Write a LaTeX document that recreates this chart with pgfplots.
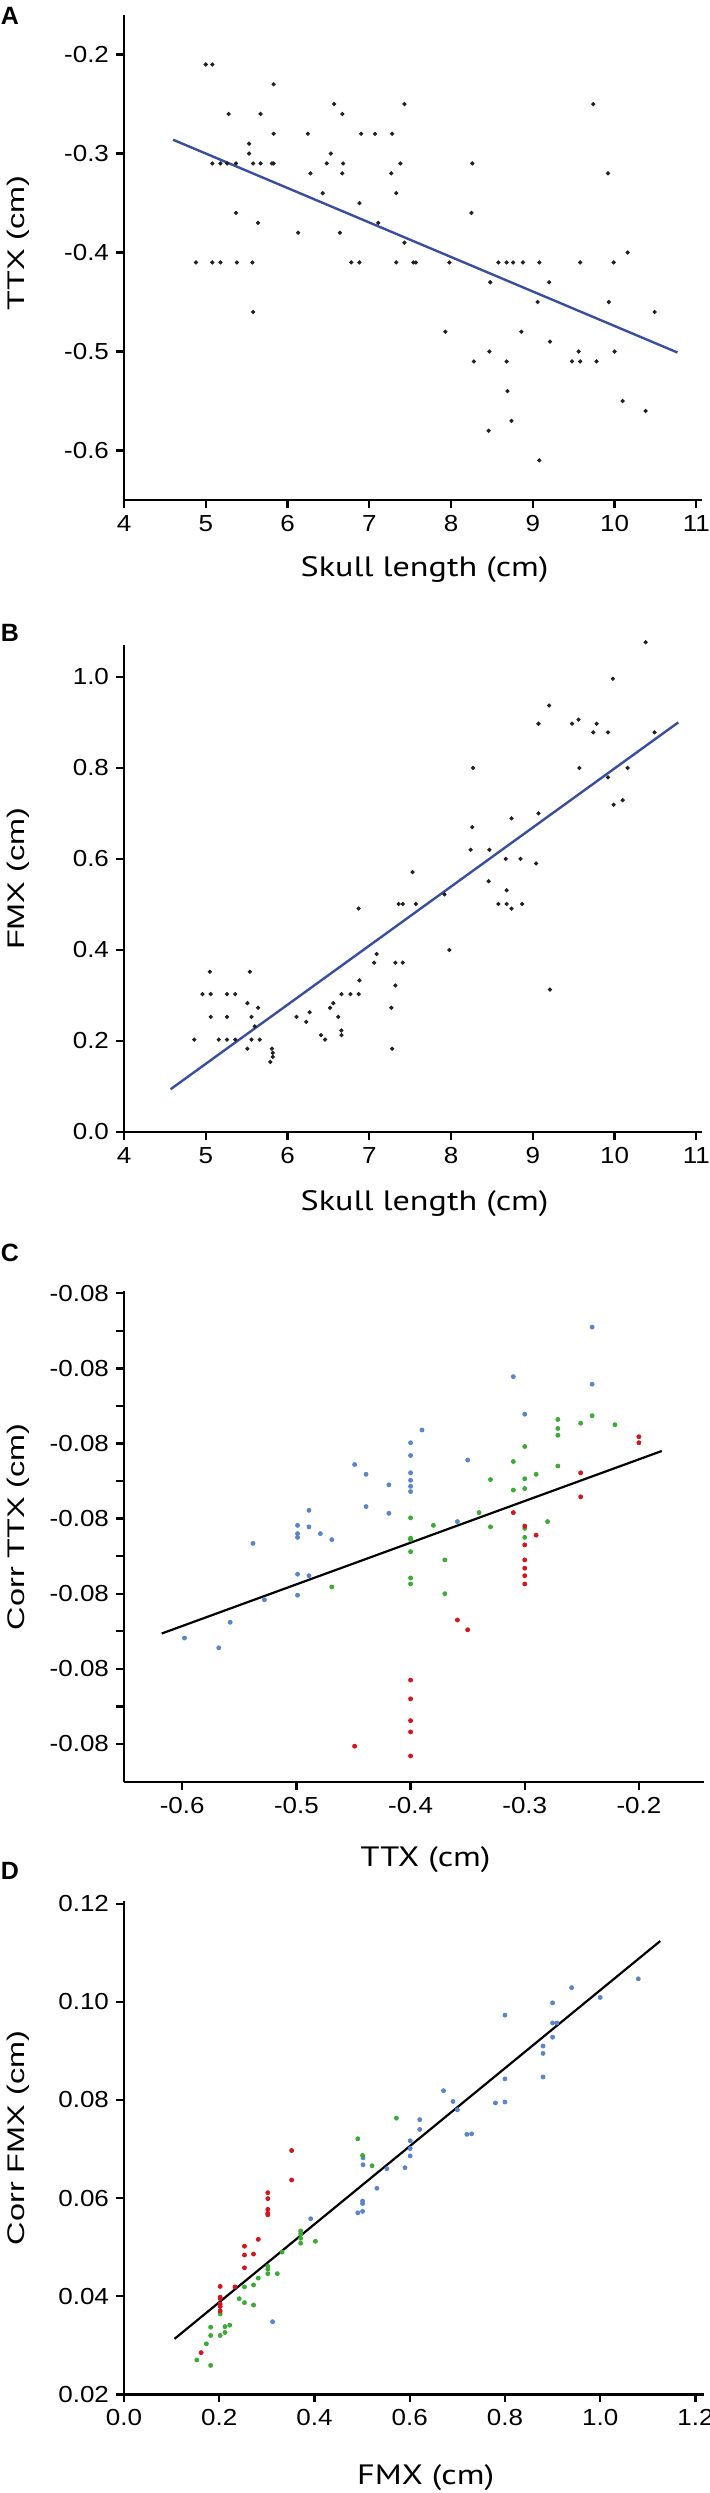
\documentclass[border=0pt]{standalone}
\usepackage{pgfplots}
\pgfplotsset{compat=1.18}
\usepackage{fontspec}
\setmainfont{Liberation Sans}
\newfontfamily\tickfont[FakeStretch=1.12]{Liberation Sans}
\newfontfamily\xlabfont[FakeStretch=1.22]{PT Sans}
\newfontfamily\ylabfont[FakeStretch=1.35]{Liberation Sans}
\definecolor{dotblack}{HTML}{231F20}
\definecolor{fitblue}{HTML}{3A4E9F}
\definecolor{ptblue}{HTML}{5B85C8}
\definecolor{ptgreen}{HTML}{3DAA35}
\definecolor{ptred}{HTML}{D2161E}
\pgfplotsset{
  panel/.style={
    scale only axis,
    axis x line*=bottom, axis y line*=left,
    axis line style={-, line width=1.2pt},
    tick align=outside,
    major tick length=4pt, minor tick length=4pt,
    every tick/.style={black, line width=1.2pt},
    tick label style={font=\tickfont\fontsize{11.6}{12}\selectfont},
    xlabel style={font=\xlabfont\fontsize{14}{15}\selectfont},
    ylabel style={font=\ylabfont\fontsize{12}{13}\selectfont},
    clip=false,
  },
  dots/.style={only marks, mark=*, mark size=0.85pt, mark options={draw=none}},
  cdots/.style={only marks, mark=*, mark size=1pt, mark options={draw=none}},
}
\begin{document}
\begin{tikzpicture}
\useasboundingbox (0,0) rectangle (354.5pt,-1246.5pt);
\node[font=\bfseries\fontsize{12.5}{13}\selectfont] at (5pt,-8pt) {A};
\node[font=\bfseries\fontsize{12.5}{13}\selectfont] at (5pt,-316.5pt) {B};
\node[font=\bfseries\fontsize{12.5}{13}\selectfont] at (5pt,-626.5pt) {C};
\node[font=\bfseries\fontsize{12.5}{13}\selectfont] at (5pt,-935.5pt) {D};

% A: TTX vs skull length
\begin{axis}[panel, at={(62pt,-250pt)}, anchor=south west,
  width=289pt, height=242.5pt,
  xmin=4, xmax=11.07, ymin=-0.65, ymax=-0.16,
  xtick={4,5,6,7,8,9,10,11}, xticklabels={4,5,6,7,8,9,10,11},
  ytick={-0.6,-0.5,-0.4,-0.3,-0.2}, yticklabels={-0.6,-0.5,-0.4,-0.3,-0.2},
  xlabel={Skull length (cm)}, ylabel={TTX (cm)},
  xlabel style={at={(axis description cs:0.52,0)}, anchor=center, yshift=-35pt},
  ylabel style={at={(axis description cs:-0.1834,0.53)}, anchor=center},
]
\addplot[dots, dotblack] coordinates {
(5.00,-0.21)(5.08,-0.21)(5.83,-0.23)(5.28,-0.26)(5.67,-0.26)(6.57,-0.25)(6.67,-0.26)(7.43,-0.25)(9.74,-0.25)
(5.83,-0.28)(6.25,-0.28)(6.90,-0.28)(7.07,-0.28)(7.28,-0.28)(5.53,-0.29)(5.53,-0.30)(6.53,-0.30)
(5.08,-0.31)(5.18,-0.31)(5.26,-0.31)(5.37,-0.31)(5.58,-0.31)(5.67,-0.31)(5.81,-0.31)(5.83,-0.31)(6.48,-0.31)(6.68,-0.31)(7.38,-0.31)(8.26,-0.31)
(6.28,-0.32)(6.67,-0.32)(7.27,-0.32)(9.92,-0.32)
(6.43,-0.34)(7.33,-0.34)(6.88,-0.35)(5.37,-0.36)(8.25,-0.36)(5.64,-0.37)(7.11,-0.37)(6.13,-0.38)(6.64,-0.38)(7.43,-0.39)(10.16,-0.40)
(4.88,-0.41)(5.08,-0.41)(5.18,-0.41)(5.38,-0.41)(5.57,-0.41)(6.78,-0.41)(6.88,-0.41)(7.33,-0.41)(7.54,-0.41)(7.57,-0.41)(7.98,-0.41)(8.58,-0.41)(8.68,-0.41)(8.76,-0.41)(8.88,-0.41)(9.08,-0.41)(9.58,-0.41)(9.99,-0.41)
(8.48,-0.43)(9.20,-0.43)(9.06,-0.45)(9.93,-0.45)(5.58,-0.46)(10.49,-0.46)
(7.93,-0.48)(8.86,-0.48)(9.21,-0.49)(8.47,-0.50)(9.56,-0.50)(10.00,-0.50)
(8.28,-0.51)(8.68,-0.51)(9.48,-0.51)(9.58,-0.51)(9.78,-0.51)(8.69,-0.54)(10.10,-0.55)(10.38,-0.56)(8.74,-0.57)(8.46,-0.58)(9.08,-0.61)
};
\addplot[fitblue, line width=1.2pt] coordinates {(4.6,-0.286)(10.77,-0.501)};
\end{axis}

% B: FMX vs skull length
\begin{axis}[panel, at={(62pt,-566pt)}, anchor=south west,
  width=289pt, height=243.5pt,
  xmin=4, xmax=11.07, ymin=0, ymax=1.07,
  xtick={4,5,6,7,8,9,10,11}, xticklabels={4,5,6,7,8,9,10,11},
  ytick={0,0.2,0.4,0.6,0.8,1.0}, yticklabels={0.0,0.2,0.4,0.6,0.8,1.0},
  xlabel={Skull length (cm)}, ylabel={FMX (cm)},
  xlabel style={at={(axis description cs:0.52,0)}, anchor=center, yshift=-36pt},
  ylabel style={at={(axis description cs:-0.1834,0.52)}, anchor=center},
]
\addplot[dots, dotblack] coordinates {
(10.38,1.076)(9.98,0.996)(9.20,0.937)(9.07,0.897)(9.48,0.897)(9.56,0.906)(9.78,0.897)(9.74,0.878)(9.92,0.878)(10.49,0.878)
(8.27,0.80)(9.57,0.80)(10.16,0.80)(9.92,0.779)(9.99,0.719)(10.10,0.729)(8.74,0.689)(9.07,0.70)(8.26,0.67)
(8.24,0.62)(8.47,0.62)(8.67,0.60)(8.85,0.60)(9.04,0.59)(7.53,0.571)(8.46,0.551)(8.68,0.531)(7.92,0.522)
(6.87,0.491)(7.36,0.501)(7.41,0.501)(7.57,0.501)(8.58,0.501)(8.68,0.501)(8.87,0.501)(8.74,0.491)
(7.98,0.40)(7.09,0.391)(7.06,0.372)(7.32,0.372)(7.41,0.372)(5.05,0.352)(5.54,0.352)(6.88,0.333)(7.32,0.322)(9.21,0.313)
(4.96,0.303)(5.06,0.303)(5.26,0.303)(5.36,0.303)(6.66,0.303)(6.77,0.303)(6.87,0.303)
(5.51,0.283)(6.56,0.283)(5.64,0.273)(6.52,0.273)(7.27,0.273)(6.27,0.263)
(5.06,0.253)(5.26,0.253)(5.56,0.253)(6.11,0.253)(6.62,0.253)(6.23,0.242)(5.60,0.232)(6.66,0.223)(6.66,0.213)(6.41,0.213)
(4.86,0.203)(5.16,0.203)(5.26,0.203)(5.36,0.203)(5.56,0.203)(5.66,0.203)(6.46,0.203)
(5.51,0.183)(5.81,0.183)(7.28,0.183)(5.82,0.174)(5.82,0.165)(5.79,0.154)
};
\addplot[fitblue, line width=1.2pt] coordinates {(4.57,0.094)(10.78,0.90)};
\end{axis}

% C: corrected TTX vs TTX
\begin{axis}[panel, at={(62pt,-891pt)}, anchor=south west,
  width=290pt, height=245.5pt,
  xmin=-0.651, xmax=-0.143, ymin=-0.507, ymax=6.03,
  xtick={-0.6,-0.5,-0.4,-0.3,-0.2}, xticklabels={-0.6,-0.5,-0.4,-0.3,-0.2},
  ytick={0,1,2,3,4,5,6}, yticklabels={-0.08,-0.08,-0.08,-0.08,-0.08,-0.08,-0.08},
  minor ytick={0.5,1.5,2.5,3.5,4.5,5.5},
  xlabel={TTX (cm)}, ylabel={Corr TTX (cm)},
  xlabel style={at={(axis description cs:0.52,0)}, anchor=center, yshift=-39pt},
  ylabel style={at={(axis description cs:-0.1828,0.52)}, anchor=center},
]
\addplot[cdots, ptblue] coordinates {
(-0.241,5.55)(-0.310,4.89)(-0.241,4.79)(-0.300,4.39)(-0.390,4.18)(-0.400,4.01)(-0.400,3.84)(-0.350,3.78)
(-0.449,3.72)(-0.439,3.59)(-0.400,3.61)(-0.400,3.51)(-0.419,3.45)(-0.400,3.43)(-0.400,3.36)(-0.439,3.16)
(-0.489,3.11)(-0.419,3.07)(-0.359,2.96)(-0.499,2.91)(-0.489,2.89)(-0.499,2.80)(-0.479,2.80)(-0.499,2.75)
(-0.469,2.72)(-0.538,2.67)(-0.499,2.26)(-0.489,2.24)(-0.499,1.98)(-0.528,1.92)(-0.558,1.62)(-0.598,1.41)(-0.568,1.28)
};
\addplot[cdots, ptgreen] coordinates {
(-0.241,4.37)(-0.251,4.27)(-0.221,4.25)(-0.271,4.32)(-0.271,4.20)(-0.271,4.11)(-0.300,3.96)(-0.310,3.76)
(-0.271,3.70)(-0.330,3.52)(-0.300,3.53)(-0.290,3.59)(-0.310,3.38)(-0.300,3.40)(-0.340,3.08)(-0.400,3.01)
(-0.380,2.91)(-0.330,2.89)(-0.280,2.96)(-0.300,2.87)(-0.300,2.75)(-0.400,2.74)(-0.400,2.72)(-0.400,2.56)
(-0.370,2.45)(-0.400,2.21)(-0.400,2.13)(-0.469,2.09)(-0.370,2.00)
};
\addplot[cdots, ptred] coordinates {
(-0.200,4.09)(-0.200,4.01)(-0.251,3.61)(-0.251,3.29)(-0.310,3.08)(-0.300,2.90)(-0.290,2.78)(-0.300,2.65)
(-0.300,2.45)(-0.300,2.34)(-0.300,2.24)(-0.300,2.13)(-0.359,1.65)(-0.350,1.52)
(-0.400,0.85)(-0.400,0.60)(-0.400,0.31)(-0.400,0.16)(-0.449,-0.03)(-0.400,-0.16)
};
\addplot[black, line width=1.1pt] coordinates {(-0.618,1.47)(-0.180,3.90)};
\end{axis}

% D: corrected FMX vs FMX
\begin{axis}[panel, at={(62pt,-1197.15pt)}, anchor=south west,
  width=290pt, height=246.5pt,
  xmin=0, xmax=1.218, ymin=0.02, ymax=0.1205,
  xtick={0,0.2,0.4,0.6,0.8,1.0,1.2}, xticklabels={0.0,0.2,0.4,0.6,0.8,1.0,1.2},
  ytick={0.02,0.04,0.06,0.08,0.10,0.12}, yticklabels={0.02,0.04,0.06,0.08,0.10,0.12},
  xlabel={FMX (cm)}, ylabel={Corr FMX (cm)},
  xlabel style={at={(axis description cs:0.52,0)}, anchor=center, yshift=-41.5pt},
  ylabel style={at={(axis description cs:-0.1828,0.52)}, anchor=center},
]
\addplot[cdots, ptblue] coordinates {
(1.080,0.1047)(0.940,0.1029)(1.000,0.1009)(0.900,0.0998)(0.800,0.0973)(0.900,0.0957)(0.909,0.0957)(0.900,0.0928)
(0.880,0.0910)(0.880,0.0895)(0.880,0.0847)(0.800,0.0843)(0.671,0.0819)(0.691,0.0797)(0.780,0.0794)(0.800,0.0796)
(0.700,0.0780)(0.621,0.0760)(0.621,0.0740)(0.720,0.0730)(0.730,0.0731)(0.601,0.0717)(0.601,0.0701)(0.601,0.0686)
(0.502,0.0682)(0.502,0.0668)(0.552,0.0660)(0.590,0.0662)(0.531,0.0620)(0.501,0.0594)(0.501,0.0589)(0.501,0.0573)
(0.491,0.0570)(0.392,0.0558)(0.312,0.0348)
};
\addplot[cdots, ptgreen] coordinates {
(0.572,0.0763)(0.491,0.0721)(0.501,0.0687)(0.521,0.0666)(0.371,0.0533)(0.371,0.0527)(0.371,0.0518)(0.371,0.0508)
(0.402,0.0512)(0.332,0.0490)(0.302,0.0461)(0.302,0.0455)(0.302,0.0446)(0.322,0.0446)(0.282,0.0437)(0.253,0.0419)
(0.272,0.0423)(0.242,0.0395)(0.253,0.0387)(0.272,0.0382)(0.202,0.0364)(0.222,0.0341)(0.212,0.0338)(0.182,0.0337)
(0.212,0.0326)(0.182,0.0320)(0.202,0.0320)(0.173,0.0303)(0.153,0.0270)(0.182,0.0259)
};
\addplot[cdots, ptred] coordinates {
(0.352,0.0697)(0.352,0.0637)(0.302,0.0611)(0.302,0.0599)(0.302,0.0577)(0.302,0.0569)(0.302,0.0566)
(0.282,0.0516)(0.253,0.0502)(0.253,0.0484)(0.272,0.0486)(0.253,0.0458)(0.233,0.0419)(0.202,0.0420)
(0.202,0.0398)(0.202,0.0395)(0.202,0.0384)(0.202,0.0379)(0.202,0.0370)(0.162,0.0285)
};
\addplot[black, line width=1.1pt] coordinates {(0.106,0.0313)(1.126,0.1124)};
\end{axis}
\end{tikzpicture}
\end{document}
